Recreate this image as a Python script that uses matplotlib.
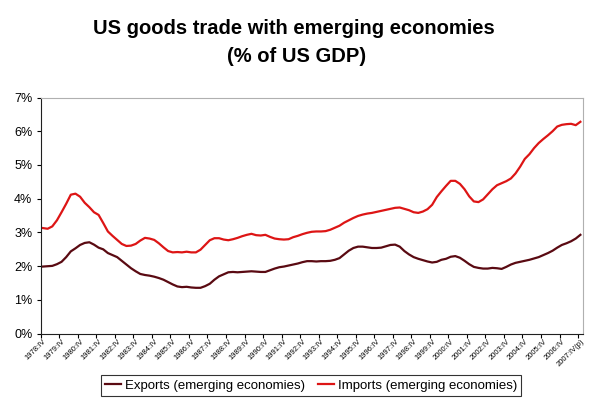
import numpy as np
import matplotlib
matplotlib.use("Agg")
import matplotlib.pyplot as plt
from matplotlib.ticker import FuncFormatter

plt.rcParams['font.family'] = ['Liberation Sans', 'DejaVu Sans']

# quarterly data, 1978:IV .. 2007:IV (% of US GDP)
imports = [3.13, 3.11, 3.18, 3.36, 3.60, 3.85, 4.12, 4.15, 4.06, 3.88,
           3.75, 3.60, 3.52, 3.28, 3.03, 2.90, 2.78, 2.66, 2.60, 2.61,
           2.66, 2.76, 2.84, 2.82, 2.78, 2.68, 2.56, 2.45, 2.41, 2.42,
           2.41, 2.43, 2.41, 2.41, 2.49, 2.63, 2.77, 2.83, 2.83, 2.79,
           2.77, 2.80, 2.84, 2.89, 2.93, 2.96, 2.92, 2.91, 2.93, 2.87,
           2.82, 2.80, 2.79, 2.80, 2.86, 2.90, 2.95, 2.99, 3.02, 3.03,
           3.03, 3.04, 3.08, 3.14, 3.20, 3.29, 3.36, 3.43, 3.49, 3.53,
           3.56, 3.58, 3.61, 3.64, 3.67, 3.70, 3.73, 3.74, 3.70, 3.66,
           3.60, 3.58, 3.62, 3.69, 3.82, 4.05, 4.22, 4.38, 4.53, 4.53,
           4.44, 4.28, 4.07, 3.92, 3.90, 3.98, 4.13, 4.28, 4.40, 4.46,
           4.52, 4.60, 4.75, 4.95, 5.18, 5.32, 5.50, 5.65, 5.77, 5.88,
           6.00, 6.14, 6.19, 6.21, 6.22, 6.18, 6.28]

exports = [1.99, 2.00, 2.01, 2.06, 2.13, 2.27, 2.44, 2.53, 2.63, 2.69,
           2.71, 2.64, 2.55, 2.50, 2.39, 2.33, 2.27, 2.16, 2.05, 1.94,
           1.85, 1.77, 1.74, 1.72, 1.69, 1.65, 1.60, 1.53, 1.46, 1.40,
           1.38, 1.39, 1.37, 1.36, 1.36, 1.41, 1.48, 1.60, 1.70, 1.76,
           1.82, 1.83, 1.82, 1.83, 1.84, 1.85, 1.84, 1.83, 1.83, 1.88,
           1.93, 1.97, 1.99, 2.02, 2.05, 2.08, 2.12, 2.15, 2.15, 2.14,
           2.15, 2.15, 2.16, 2.19, 2.24, 2.35, 2.46, 2.54, 2.58, 2.58,
           2.56, 2.54, 2.54, 2.55, 2.59, 2.63, 2.64, 2.58, 2.45, 2.35,
           2.27, 2.22, 2.18, 2.14, 2.11, 2.13, 2.19, 2.22, 2.28, 2.30,
           2.25, 2.16, 2.06, 1.98, 1.95, 1.93, 1.93, 1.95, 1.94, 1.92,
           1.98, 2.05, 2.10, 2.13, 2.16, 2.19, 2.23, 2.27, 2.33, 2.39,
           2.46, 2.55, 2.63, 2.68, 2.74, 2.82, 2.93]

years = list(range(1978, 2008))
year_labels = [f"{y}:IV" for y in years[:-1]] + ["2007:IV(p)"]

x = np.arange(len(imports))

fig = plt.figure(figsize=(5.93, 4.05), dpi=100)
ax = fig.add_axes([40.7 / 593, 1 - 333.7 / 405, 542 / 593, 236.2 / 405])

ax.plot(x, exports, color='#5a0a12', lw=1.6, label='Exports (emerging economies)')
ax.plot(x, imports, color='#dd1515', lw=1.6, label='Imports (emerging economies)')

ax.set_xlim(-0.5, len(x) - 0.5)
ax.set_ylim(0, 7)
ax.set_yticks(range(0, 8))
ax.yaxis.set_major_formatter(FuncFormatter(lambda v, p: f"{v:.0f}%"))
ax.tick_params(axis='y', labelsize=9, direction='out', length=3, width=0.8, pad=3)

# tick marks between categories, labels every 4th quarter
ax.set_xticks(np.arange(0, len(x) + 1, 4) - 0.5)
ax.set_xticklabels([])
ax.set_xticks(np.arange(0, len(x), 4), minor=True)
ax.set_xticklabels(year_labels, minor=True, rotation=45, ha='right', va='top',
                   rotation_mode='anchor', fontsize=5.5)
ax.tick_params(axis='x', which='major', direction='out', length=3, width=0.8)
ax.tick_params(axis='x', which='minor', length=0, pad=3)

for side in ['top', 'right']:
    ax.spines[side].set_color('#b0b0b0')
    ax.spines[side].set_linewidth(0.8)
for side in ['left', 'bottom']:
    ax.spines[side].set_color('#202020')
    ax.spines[side].set_linewidth(0.8)

fig.text(294 / 593, 1 - 28 / 405, "US goods trade with emerging economies",
         ha='center', va='center', fontsize=14.5, fontweight='bold')
fig.text(297 / 593, 1 - 57 / 405, "(% of US GDP)",
         ha='center', va='center', fontsize=14.5, fontweight='bold')

leg = fig.legend(loc='center', bbox_to_anchor=(311 / 593, 1 - 385.5 / 405),
                 ncol=2, fontsize=9.5, frameon=True, fancybox=False,
                 handlelength=1.2, handletextpad=0.3, columnspacing=1.0,
                 borderpad=0.3)
leg.get_frame().set_edgecolor('black')
leg.get_frame().set_linewidth(0.8)

fig.savefig('out.png', dpi=100)
